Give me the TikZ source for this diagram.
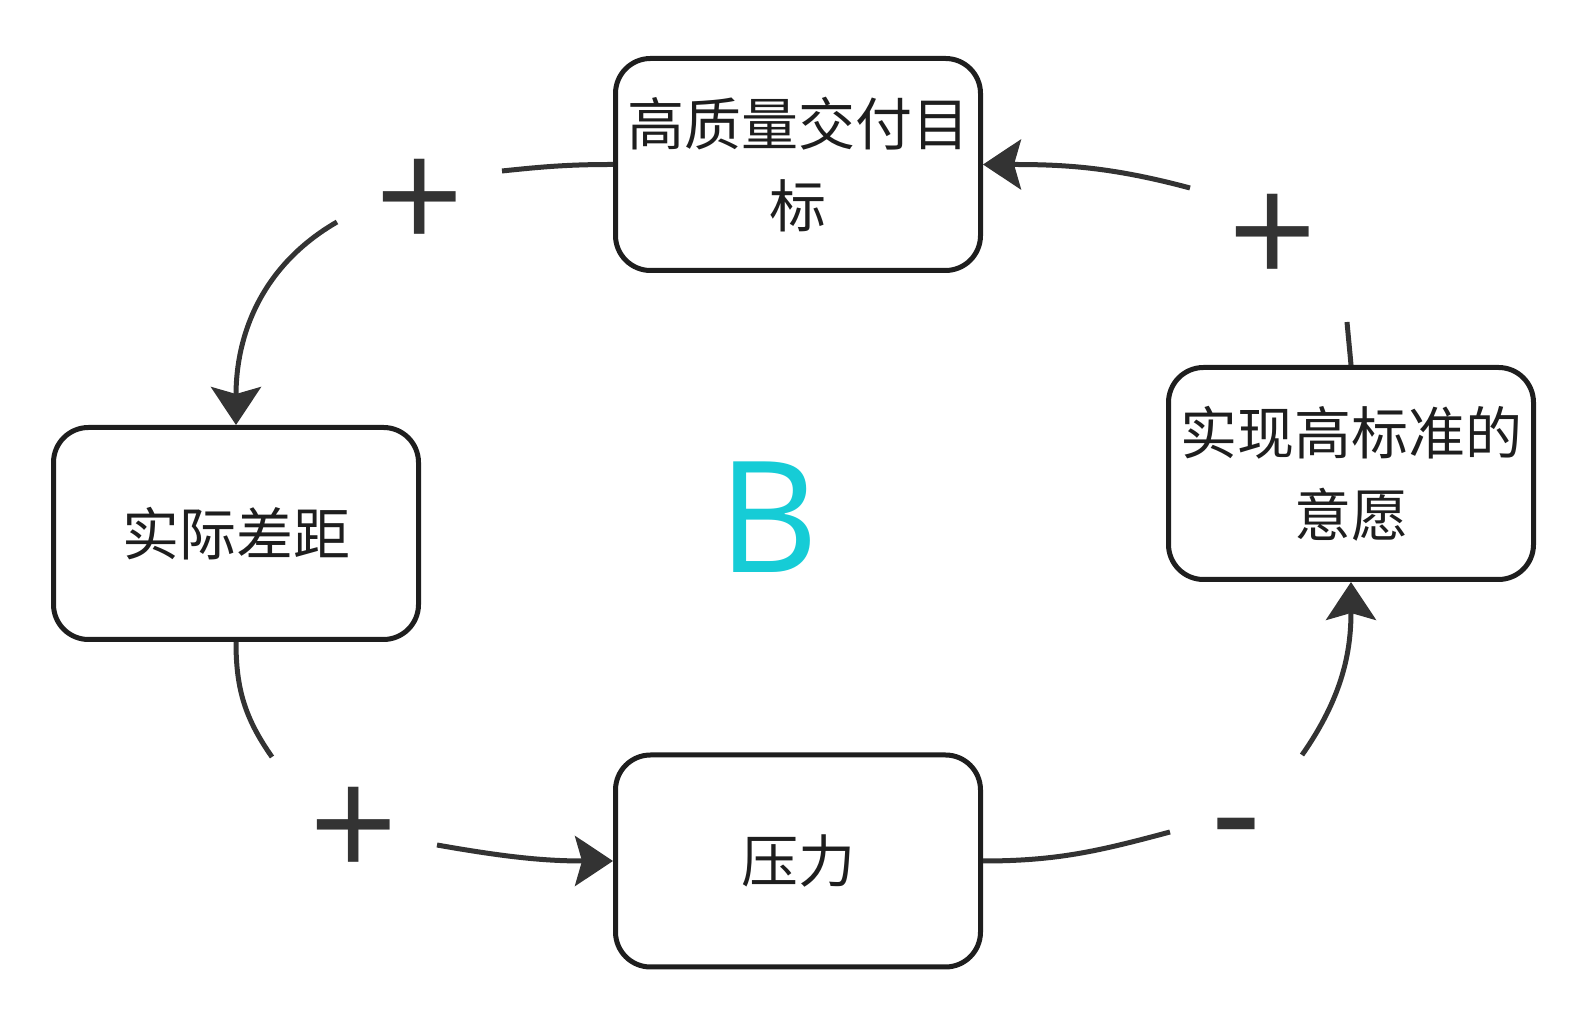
\documentclass[tikz,border=0pt]{standalone}
\usepackage{fontspec}
\setmainfont{Open Sans}
\newfontfamily\cjk{Noto Sans CJK SC}
\usetikzlibrary{arrows.meta}
\definecolor{boxline}{RGB}{30,30,30}
\definecolor{linkgray}{RGB}{51,51,51}
\definecolor{loopcyan}{RGB}{22,204,214}
\tikzset{
  factor/.style={draw=boxline, line width=5pt, rounded corners=35pt, minimum width=365pt, minimum height=212pt,
    align=center, inner sep=0pt, text=boxline, font=\cjk\fontsize{57pt}{82pt}\selectfont},
  link/.style={color=linkgray, line width=5pt},
  linkarrow/.style={link, -{Stealth[length=38pt, width=50pt, inset=7pt]}},
  sign/.style={text=linkgray, inner sep=0pt, font=\fontsize{155pt}{155pt}\selectfont}
}
\begin{document}
\begin{tikzpicture}[x=1pt, y=1pt]
    \useasboundingbox (0,0) rectangle (1582,1014);
    \node[factor] (goal) at (798,849.5) {高质量交付目\\标};
    \node[factor] (gap) at (236,480.5) {实际差距};
    \node[factor] (stress) at (798,153) {压力};
    \node[factor] (will) at (1351,540.5) {实现高标准的\\意愿};
    \node[text=loopcyan, inner sep=0pt, font=\fontsize{155pt}{155pt}\selectfont] (loop) at (769,497) {B};
    \node[sign] (s1) at (420,809) {+};
    \node[sign] (s2) at (1273,774) {+};
    \node[sign] (s3) at (354,181) {+};
    \node[sign] (s4) at (1236,172) {-};
    \coordinate (g1a) at (502,843);
    \coordinate (g1b) at (337,792);
    \coordinate (g2a) at (1190,826);
    \coordinate (g2b) at (1347,692);
    \coordinate (g3a) at (272,257);
    \coordinate (g3b) at (437,169);
    \coordinate (g4a) at (1170,182);
    \coordinate (g4b) at (1302,259);
    \draw[link] (goal.west) to[out=180, in=6] (g1a);
    \draw[linkarrow] (g1b) to[out=210, in=90] (gap.north);
    \draw[link] (gap.south) to[out=-90, in=125] (g3a);
    \draw[linkarrow] (g3b) to[out=-10, in=180] (stress.west);
    \draw[link] (stress.east) to[out=0, in=195] (g4a);
    \draw[linkarrow] (g4b) to[out=55, in=-90] (will.south);
    \draw[link] (will.north) to[out=95, in=-85] (g2b);
    \draw[linkarrow] (g2a) to[out=165, in=0] (goal.east);
\end{tikzpicture}
\end{document}
